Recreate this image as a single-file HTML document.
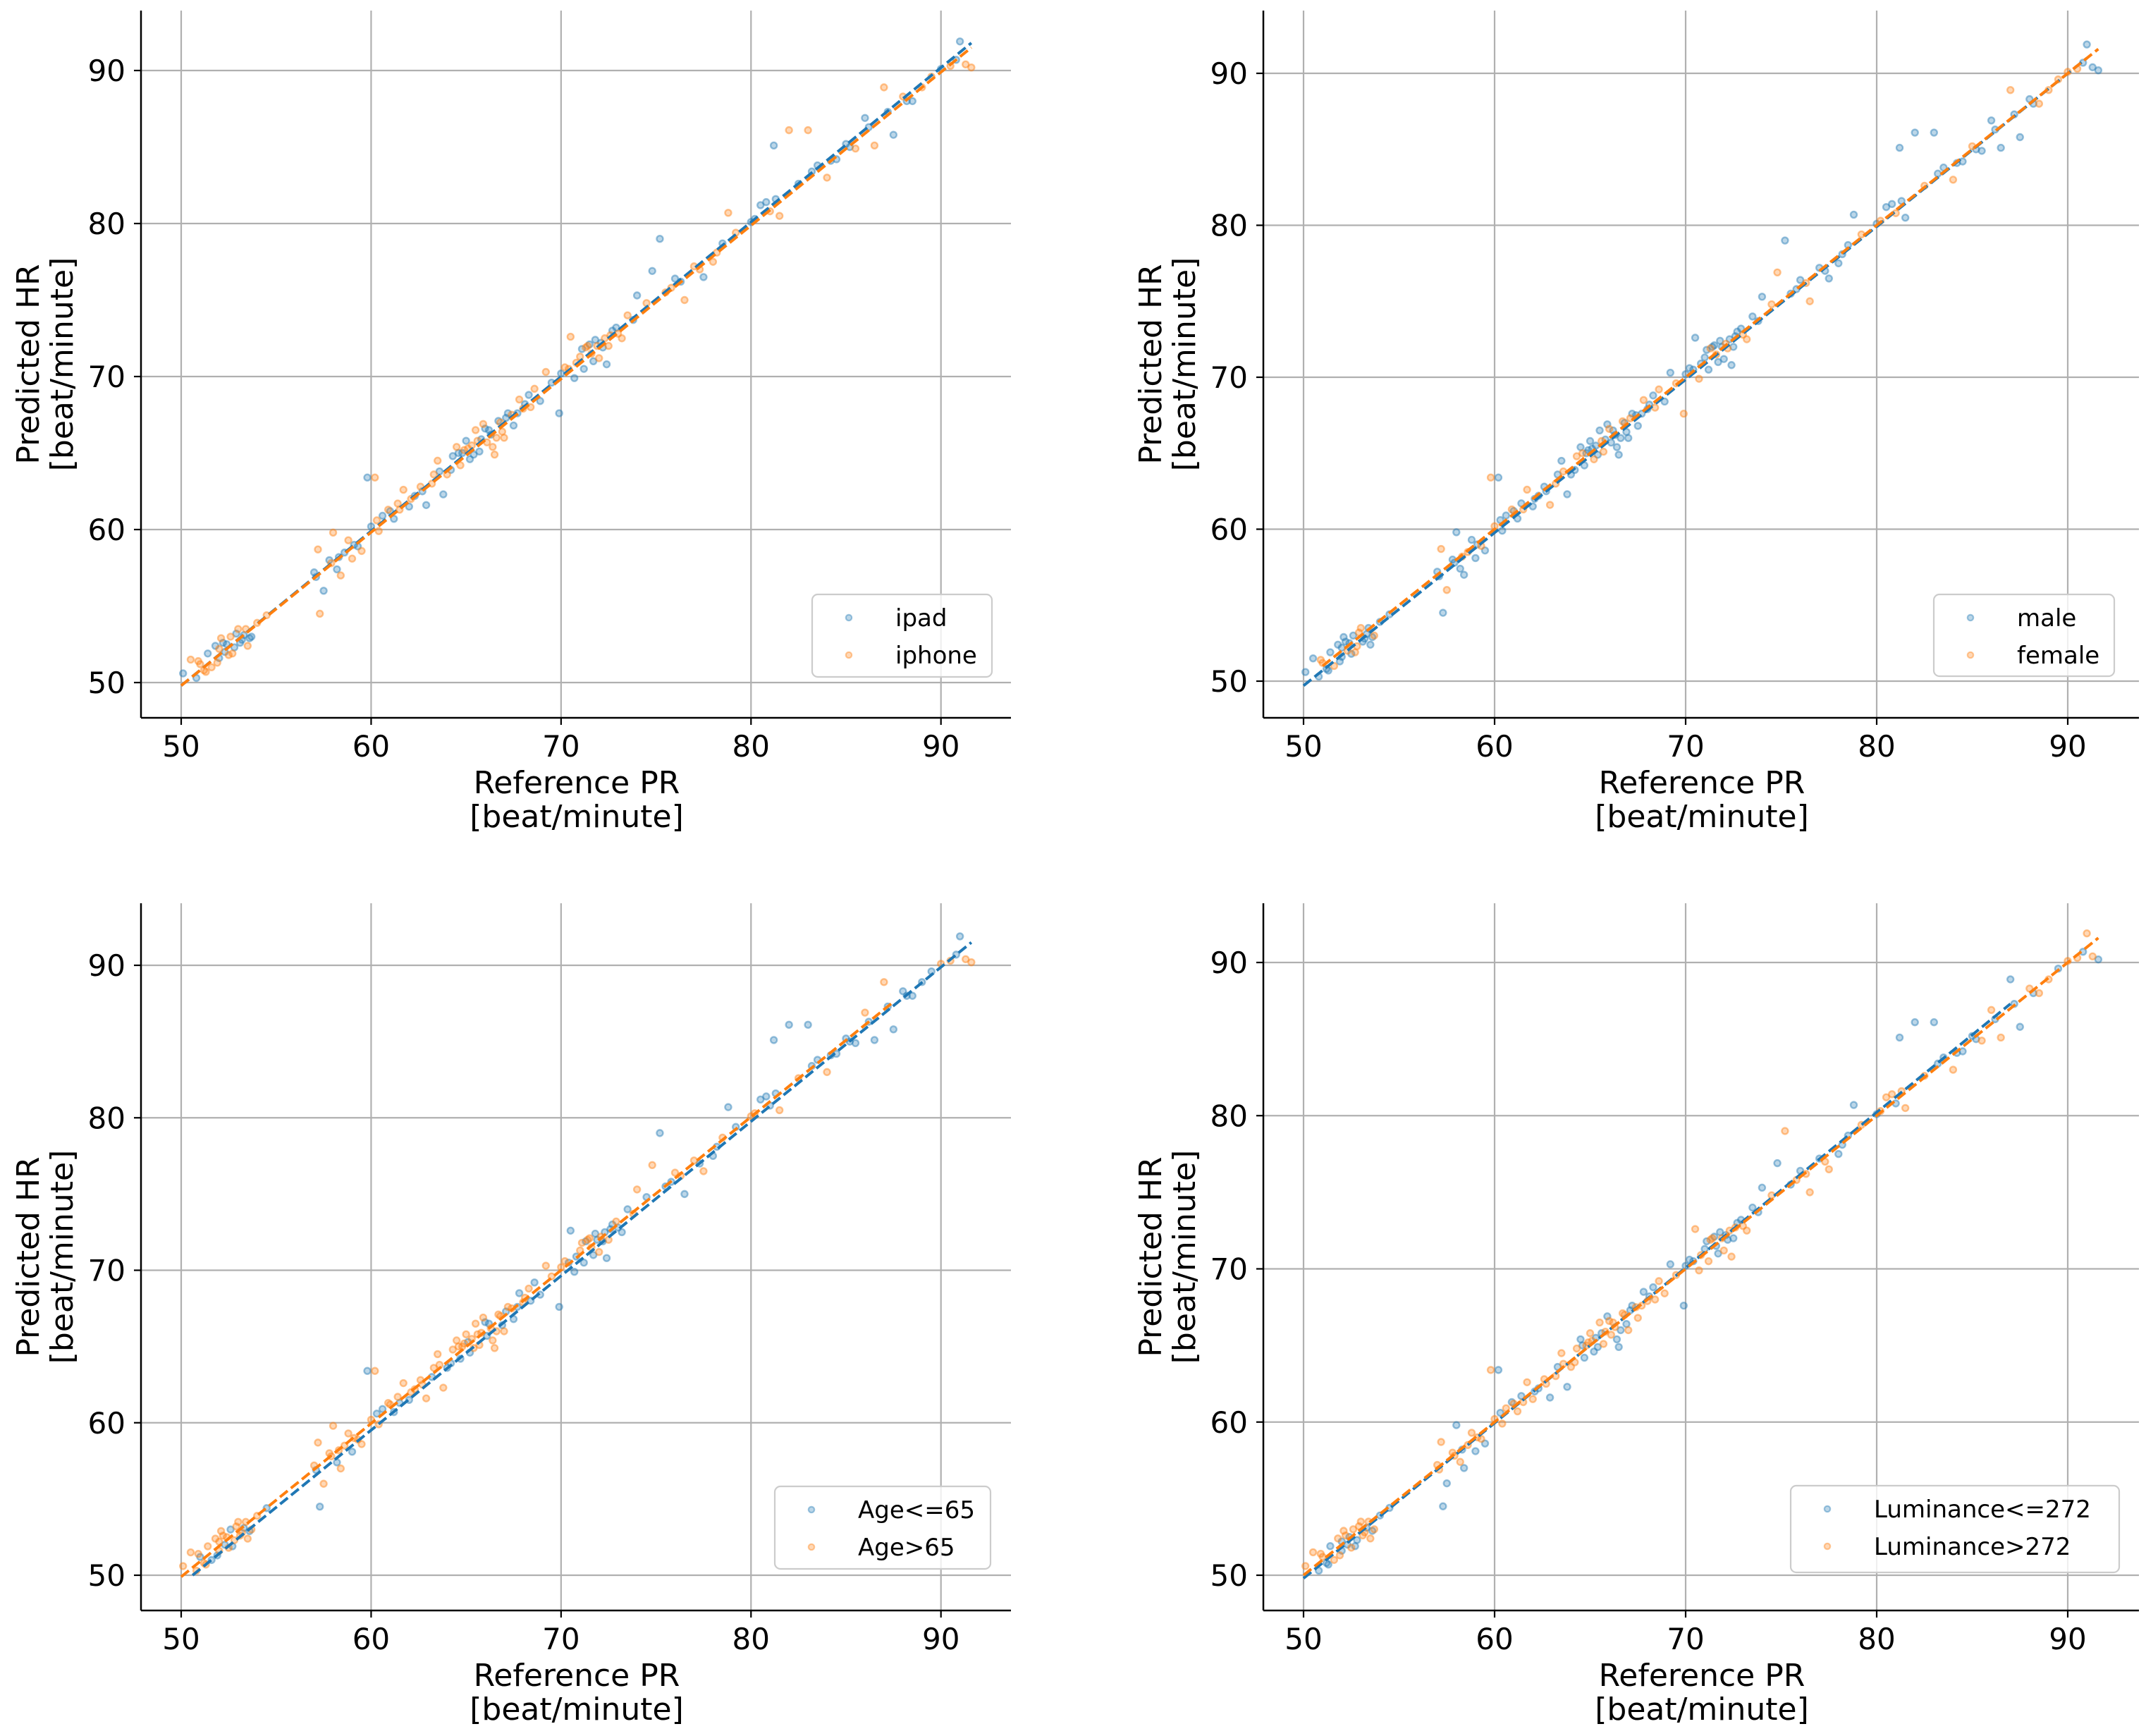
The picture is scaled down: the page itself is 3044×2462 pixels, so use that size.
<!DOCTYPE html>
<html><head><meta charset="utf-8">
<style>
html,body{margin:0;padding:0;background:#fff;}
svg{display:block;font-family:"DejaVu Sans","Liberation Sans",sans-serif;}
</style></head>
<body>
<svg id="fig" width="3044" height="2462" viewBox="0 0 3044 2462" xmlns="http://www.w3.org/2000/svg"></svg>
<script>
// ---- data ----
const refPR = [50.1,50.5,50.8,51.0,51.2,51.4,51.6,51.8,52.0,52.1,52.3,52.5,52.6,52.8,53.0,53.1,53.3,53.5,53.7,54.0,54.5,
57.0,57.2,57.3,57.5,57.8,58.0,58.2,58.4,58.6,58.8,59.0,59.3,59.5,59.8,60.0,60.2,60.4,60.6,60.9,61.2,
61.4,61.7,62.0,62.3,62.6,62.9,63.2,63.5,63.8,64.0,64.3,64.5,64.7,65.0,65.2,65.5,65.7,65.9,66.1,66.3,
66.5,66.7,66.9,67.2,67.5,67.8,68.0,68.3,68.6,68.9,69.2,69.5,69.9,70.2,70.5,70.7,71.0,71.2,71.4,71.6,
71.8,72.0,72.2,72.4,72.6,72.9,73.2,73.5,74.0,74.5,74.8,75.2,75.5,76.0,76.5,77.0,77.5,78.0,78.5,78.8,
79.2,80.0,80.5,81.0,81.2,81.5,82.0,82.5,83.0,83.5,84.0,84.5,85.0,85.5,86.0,86.5,87.0,87.5,88.0,88.5,
89.0,89.5,90.0,90.5,91.0,91.3,91.6,
63.6,64.8,65.3,65.8,66.0,66.4,67.0,52.2,52.7,53.2,
51.3,51.9,52.4,52.9,53.4,53.6,50.9,52.0,57.1,57.9,58.3,59.1,60.3,61.0,61.5,62.1,62.7,63.3,64.2,64.6,
64.9,65.1,65.4,65.6,66.2,66.6,66.8,67.1,67.4,67.7,68.1,68.4,70.0,70.4,70.8,71.1,71.3,71.5,71.7,71.9,
72.1,72.3,72.5,72.7,73.0,73.8,75.8,76.3,77.3,78.2,80.2,80.8,81.3,83.2,84.2,85.2,86.2,87.2,88.2,90.8];
const predHR = [50.6,51.5,50.3,51.2,50.8,51.9,51.0,52.4,51.6,52.9,52.0,51.8,53.0,52.3,53.5,52.6,53.1,52.4,53.0,53.9,54.4,
57.2,58.7,54.5,56.0,58.0,59.8,57.4,57.0,58.5,59.3,58.1,58.9,58.6,63.4,60.2,63.4,59.9,60.9,61.3,60.7,
61.7,62.6,61.5,62.2,62.8,61.6,63.0,64.5,62.3,63.6,64.8,65.4,64.2,65.8,64.6,66.5,65.1,66.9,65.7,66.2,
64.9,67.1,66.4,67.6,66.8,68.5,67.9,68.8,69.2,68.4,70.3,69.6,67.6,70.6,72.6,69.9,71.3,70.5,72.0,71.5,
72.4,71.2,71.9,70.8,72.7,73.2,72.5,74.0,75.3,74.8,76.9,79.0,75.5,76.4,75.0,77.2,76.5,77.5,78.7,80.7,
79.4,80.1,81.2,80.8,85.1,80.5,86.1,82.6,86.1,83.8,83.0,84.2,85.2,84.9,86.9,85.1,88.9,85.8,88.3,88.0,
88.9,89.6,90.1,90.3,91.9,90.4,90.2,
63.8,65.0,65.5,65.9,66.6,65.4,66.0,52.6,51.9,52.8,
50.7,51.3,52.5,53.2,53.5,52.9,51.4,52.2,56.9,57.8,58.2,59.0,60.6,61.2,61.3,62.0,62.5,63.6,63.9,65.0,
65.2,65.3,64.9,65.8,66.5,66.0,67.0,67.3,67.5,67.6,68.2,68.0,70.2,70.5,70.9,71.8,71.9,72.1,71.0,72.0,
72.2,72.5,72.0,73.0,72.8,73.7,75.8,76.2,77.0,78.1,80.3,81.4,81.6,83.4,84.1,85.0,86.3,87.3,88.0,90.7];
// group membership per panel (0 = first legend entry / blue, 1 = second / orange)
const groupDevice = "010110100101101001011011001010110100110101100101101011001011010100110101001101011010010110100101101011001011010100101101011010110" + "01001101011001011010010110100110101101001011010010110101011000";
const groupSex    = "000100100010011000100010100001001011000100100011000100010100001000100100110010001001000100110001000001001000100101000100111110001" + "00010001000010010001000100001000100010001000010001000100100100";
const groupAge    = "111011011101011101110110111011101101110101101110110110101110111010011001101001011010001001010010110100100010100100010100000110111" + "11101110110111011011101011101101101101010100101001010010100100";
const groupLum    = "110100110101101101100110010101101011011010110101101100101101101001010110100110110010110100101001010001010010100100111001110111101" + "10110110101011010110101101010110010101101001010010100101110111";
const groups = [groupDevice, groupSex, groupAge, groupLum];
const legendLabels = [["ipad","iphone"],["male","female"],["Age<=65","Age>65"],["Luminance<=272","Luminance>272"]];
// fitted regression lines [x0,y0,x1,y1] per panel, per series
const fitBlue   = [[50,49.8,91.6,91.8],[50,49.7,91.0,91.0],[50.6,50.0,91.6,91.5],[50,49.8,87.0,87.3]];
const fitOrange = [[50,49.8,91.6,91.5],[51,51.0,91.6,91.6],[50,49.9,87.5,87.6],[50,50.0,91.6,91.6]];
const xTicks = [50,60,70,80,90];
const yTicks = [50,60,70,80,90];

// ---- layout ----
const panels = [
 {L:200,R:1434,T:15,B:1018, x50:257,x90:1334.7, y50:968,y90:100, leg:[1152,843,255,117]},
 {L:1792,R:3034,T:15,B:1018, x50:1849,x90:2933, y50:966,y90:104, leg:[2743,843,256,116]},
 {L:200,R:1434,T:1281,B:2284, x50:257,x90:1334.7, y50:2234,y90:1369, leg:[1099,2108,306,117]},
 {L:1792,R:3034,T:1281,B:2284, x50:1849,x90:2933, y50:2234,y90:1365, leg:[2540,2107,466,123]}
];
const BLUE="#1f77b4", ORANGE="#ff7f0e";
const NS="http://www.w3.org/2000/svg";
const svg=document.getElementById('fig');
function mk(tag,attrs,parent){const e=document.createElementNS(NS,tag);for(const k in attrs)e.setAttribute(k,attrs[k]);(parent||svg).appendChild(e);return e;}

panels.forEach((p,pi)=>{
  const sx=v=>p.x50+(v-50)*(p.x90-p.x50)/40;
  const sy=v=>p.y50+(v-50)*(p.y90-p.y50)/40;
  const g=mk('g',{});
  
  
  xTicks.forEach(t=>{const l=mk('line',{x1:sx(t),x2:sx(t),y1:p.T,y2:p.B,stroke:'#b0b0b0','stroke-width':2.2},g);
    });
  yTicks.forEach(t=>{const l=mk('line',{x1:p.L,x2:p.R,y1:sy(t),y2:sy(t),stroke:'#b0b0b0','stroke-width':2.2},g);
    });
  const grp=groups[pi];
  [0,1].forEach(s=>{
    const col=s?ORANGE:BLUE;
    refPR.forEach((xv,i)=>{
      const gv=(grp[i]||'0')==='1'?1:0;
      if(gv!==s) return;
      const c=mk('circle',{cx:sx(xv),cy:sy(predHR[i]),r:4.5,fill:col,'fill-opacity':0.3,stroke:col,'stroke-opacity':0.45,'stroke-width':2.4},g);
      
      
    });
  });
  [[fitBlue[pi],BLUE],[fitOrange[pi],ORANGE]].forEach(([f,col],k)=>{
    const l=mk('line',{x1:sx(f[0]),y1:sy(f[1]),x2:sx(f[2]),y2:sy(f[3]),stroke:col,'stroke-width':4,'stroke-dasharray':'14 6'},g);
    
    
  });
  const sl=mk('line',{x1:p.L,x2:p.L,y1:p.T,y2:p.B,stroke:'#000','stroke-width':2.5},g);
  
  const sb=mk('line',{x1:p.L,x2:p.R,y1:p.B,y2:p.B,stroke:'#000','stroke-width':2.5},g);
  
  xTicks.forEach(t=>{
    const tk=mk('line',{x1:sx(t),x2:sx(t),y1:p.B,y2:p.B+10,stroke:'#000','stroke-width':2.2},g);
    
    const tx=mk('text',{x:sx(t),y:p.B+55,'font-size':42,'text-anchor':'middle',fill:'#000'},g);
    tx.textContent=t;
  });
  yTicks.forEach(t=>{
    const tk=mk('line',{x1:p.L-10,x2:p.L,y1:sy(t),y2:sy(t),stroke:'#000','stroke-width':2.2},g);
    
    const tx=mk('text',{x:p.L-22,y:sy(t)+15,'font-size':42,'text-anchor':'end',fill:'#000'},g);
    tx.textContent=t;
  });
  const cx=(p.L+p.R)/2+1;
  const xt1=mk('text',{x:cx,y:p.B+107,'font-size':44,'text-anchor':'middle'},g);
  xt1.textContent='Reference  PR';
  const xt2=mk('text',{x:cx,y:p.B+155,'font-size':44,'text-anchor':'middle'},g);
  xt2.textContent='[beat/minute]';
  const cy=(p.T+p.B)/2;
  const yx=p.L-160;
  const yt1=mk('text',{x:0,y:0,'font-size':44,'text-anchor':'middle',transform:`translate(${yx+15},${cy}) rotate(-90)`},g);
  yt1.textContent='Predicted HR';
  const yt2=mk('text',{x:0,y:0,'font-size':44,'text-anchor':'middle',transform:`translate(${yx+63},${cy}) rotate(-90)`},g);
  yt2.textContent='[beat/minute]';
  const [lx,ly,lw,lh]=p.leg;
  const lg=mk('g',{},g);
  
  mk('rect',{x:lx,y:ly,width:lw,height:lh,rx:8,fill:'#fff','fill-opacity':0.8,stroke:'#cccccc','stroke-width':2.2},lg);
  legendLabels[pi].forEach((lab,k)=>{
    const col=k?ORANGE:BLUE;
    const ry=ly+33+k*53;
    const m=mk('circle',{cx:lx+52,cy:ry,r:4.2,fill:col,'fill-opacity':0.3,stroke:col,'stroke-opacity':0.4,'stroke-width':2.2},lg);
    
    const t=mk('text',{x:lx+118,y:ry+12,'font-size':34,fill:'#000'},lg);
    t.textContent=lab;
  });
});
</script>
</body></html>
